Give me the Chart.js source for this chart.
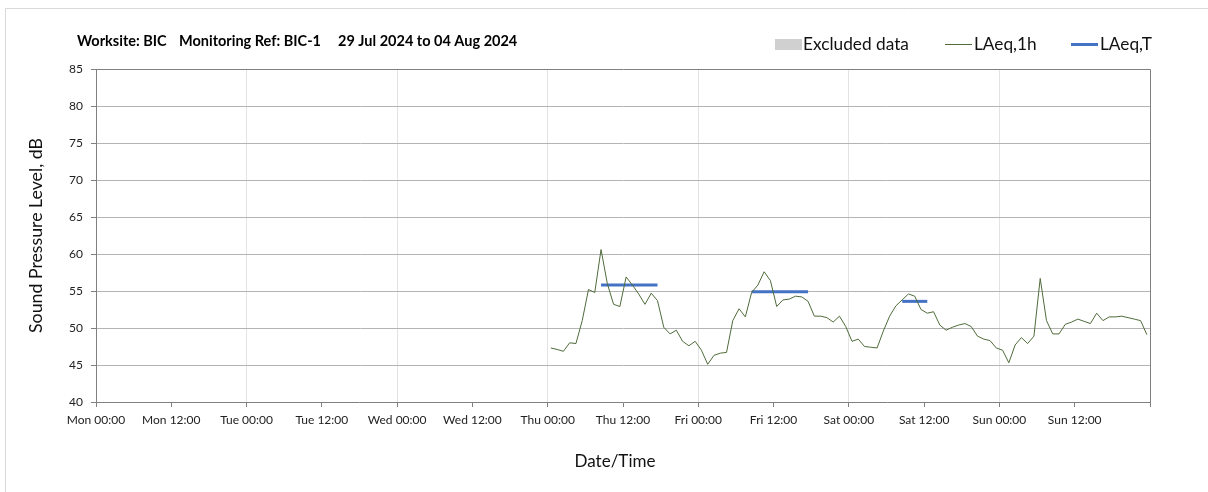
<!DOCTYPE html>
<html>
<head>
<meta charset="utf-8">
<script src="https://cdn.jsdelivr.net/npm/chart.js@4/dist/chart.umd.min.js"></script>
<style>
html,body{margin:0;padding:0;background:#fff;}
canvas{display:block;}
</style>
</head>
<body>
<canvas id="c" width="1208" height="492"></canvas>
<script>
// ---- data ----
const titleParts = ['Worksite: BIC', 'Monitoring Ref: BIC-1', '29 Jul 2024 to 04 Aug 2024'];
const dayNames = ['Mon', 'Tue', 'Wed', 'Thu', 'Fri', 'Sat', 'Sun', 'Mon'];
const firstHour = 72.5; // Thu 00:30, hours since Mon 00:00
const laeq1h = [
  47.3, 47.1, 46.85, 48.0, 47.9, 51.0, 55.2, 54.8, 60.6, 56.0, 53.2, 52.9,
  56.9, 55.8, 54.6, 53.2, 54.7, 53.7, 50.1, 49.2, 49.7, 48.2, 47.6, 48.2,
  47.0, 45.1, 46.3, 46.6, 46.7, 51.0, 52.6, 51.5, 54.8, 55.8, 57.6, 56.4,
  52.9, 53.8, 53.9, 54.3, 54.2, 53.6, 51.6, 51.6, 51.4, 50.8, 51.6, 50.2,
  48.2, 48.5, 47.5, 47.4, 47.3, 49.6, 51.6, 53.0, 53.8, 54.6, 54.3, 52.5,
  52.0, 52.2, 50.4, 49.7, 50.1, 50.4, 50.6, 50.2, 48.9, 48.5, 48.3, 47.3,
  47.0, 45.3, 47.7, 48.7, 47.9, 48.9, 56.7, 51.0, 49.2, 49.2, 50.5, 50.8,
  51.2, 50.9, 50.6, 52.0, 51.0, 51.5, 51.5, 51.6, 51.4, 51.2, 51.0, 49.1
];
const periodStart = [80.5, 104.5, 128.5];
const periodEnd   = [89.5, 113.5, 132.5];
const periodValue = [55.8, 54.9, 53.6];
const legendLabels = ['Excluded data', 'LAeq,1h', 'LAeq,T'];
const xTitle = 'Date/Time';
const yTitle = 'Sound Pressure Level, dB';

// ---- build datasets ----
const FONT = 'Lato, "Open Sans", sans-serif';
const lineColor = '#4f6b3a';
const blue = '#4472c4';
const datasets = [{
  label: legendLabels[1],
  data: laeq1h.map((v, i) => ({x: firstHour + i, y: v})),
  borderColor: lineColor, borderWidth: 1, pointRadius: 0, tension: 0, fill: false
}];
periodValue.forEach((v, i) => {
  datasets.push({
    label: legendLabels[2],
    data: [{x: periodStart[i], y: v}, {x: periodEnd[i], y: v}],
    borderColor: blue, borderWidth: 3, pointRadius: 0, fill: false, borderCapStyle: 'butt'
  });
});

// choose a font size so that text spans roughly the target width
function fitFont(c, text, weight, target) {
  c.font = weight + ' 20px ' + FONT;
  const w = c.measureText(text).width;
  const size = Math.max(8, 20 * target / w);
  return weight + ' ' + size.toFixed(2) + 'px ' + FONT;
}

const decor = {
  id: 'decor',
  beforeDraw(chart) {
    const c = chart.ctx;
    c.save();
    c.strokeStyle = '#d9d9d9';
    c.lineWidth = 1;
    c.beginPath();
    c.moveTo(5.5, 492); c.lineTo(5.5, 8.5); c.lineTo(1208, 8.5);
    c.stroke();
    c.restore();
  },
  afterDraw(chart) {
    const c = chart.ctx, a = chart.chartArea;
    c.save();
    // chart area top/right border
    c.strokeStyle = '#808080'; c.lineWidth = 1;
    c.beginPath();
    c.moveTo(Math.round(a.left) + 0.5, Math.round(a.top) + 0.5);
    c.lineTo(Math.round(a.right) + 0.5, Math.round(a.top) + 0.5);
    c.lineTo(Math.round(a.right) + 0.5, Math.round(a.bottom) + 0.5);
    c.stroke();
    // title
    c.fillStyle = '#000';
    c.textBaseline = 'alphabetic'; c.textAlign = 'left';
    c.font = fitFont(c, titleParts[1], 'bold', 142);
    const tx = [77, 179, 338];
    titleParts.forEach((t, i) => c.fillText(t, tx[i], 46));
    // legend
    c.font = fitFont(c, legendLabels[0], 'normal', 106);
    c.fillStyle = '#d0d0d0';
    c.fillRect(775, 39, 27, 11);
    c.fillStyle = '#111';
    c.fillText(legendLabels[0], 803, 50);
    c.strokeStyle = lineColor; c.lineWidth = 1;
    c.beginPath(); c.moveTo(945, 44.5); c.lineTo(972, 44.5); c.stroke();
    c.fillText(legendLabels[1], 974, 50);
    c.strokeStyle = blue; c.lineWidth = 3;
    c.beginPath(); c.moveTo(1071, 44.5); c.lineTo(1098, 44.5); c.stroke();
    c.fillText(legendLabels[2], 1100, 50);
    // axis titles
    c.fillStyle = '#111';
    c.textAlign = 'center'; c.textBaseline = 'middle';
    c.font = fitFont(c, xTitle, 'normal', 81);
    c.fillText(xTitle, 615, 462);
    c.font = fitFont(c, yTitle, 'normal', 195);
    c.translate(36, (a.top + a.bottom) / 2);
    c.rotate(-Math.PI / 2);
    c.fillText(yTitle, 0, 0);
    c.restore();
  }
};

new Chart(document.getElementById('c'), {
  type: 'line',
  data: {datasets},
  options: {
    responsive: false,
    animation: false,
    layout: {padding: {left: 0, right: 58, top: 69, bottom: 0}},
    plugins: {legend: {display: false}, title: {display: false}, tooltip: {enabled: false}},
    scales: {
      x: {
        type: 'linear', min: 0, max: 168,
        afterFit(s) { s.height = 90; },
        border: {color: '#808080', width: 1},
        grid: {
          color: (ctx) => (ctx.tick && ctx.tick.value % 24 === 0 && ctx.tick.value > 0 && ctx.tick.value < 168) ? '#e3e3e3' : 'rgba(0,0,0,0)',
          tickColor: '#808080', tickLength: 5, drawTicks: true
        },
        ticks: {
          stepSize: 12, autoSkip: false, maxRotation: 0, minRotation: 0, padding: 6,
          color: '#222', font: {family: FONT, size: 12},
          callback: (v) => v >= 168 ? '' : dayNames[Math.floor(v / 24)] + (v % 24 === 0 ? ' 00:00' : ' 12:00')
        }
      },
      y: {
        min: 40, max: 85,
        afterFit(s) { s.width = 96; },
        border: {color: '#808080', width: 1},
        grid: {
          color: (ctx) => (ctx.tick && ctx.tick.value > 40 && ctx.tick.value < 85) ? '#b4b4b4' : 'rgba(0,0,0,0)',
          tickColor: '#808080', tickLength: 5
        },
        ticks: {stepSize: 5, padding: 8, color: '#222', font: {family: FONT, size: 12}}
      }
    }
  },
  plugins: [decor]
});
</script>
</body>
</html>
